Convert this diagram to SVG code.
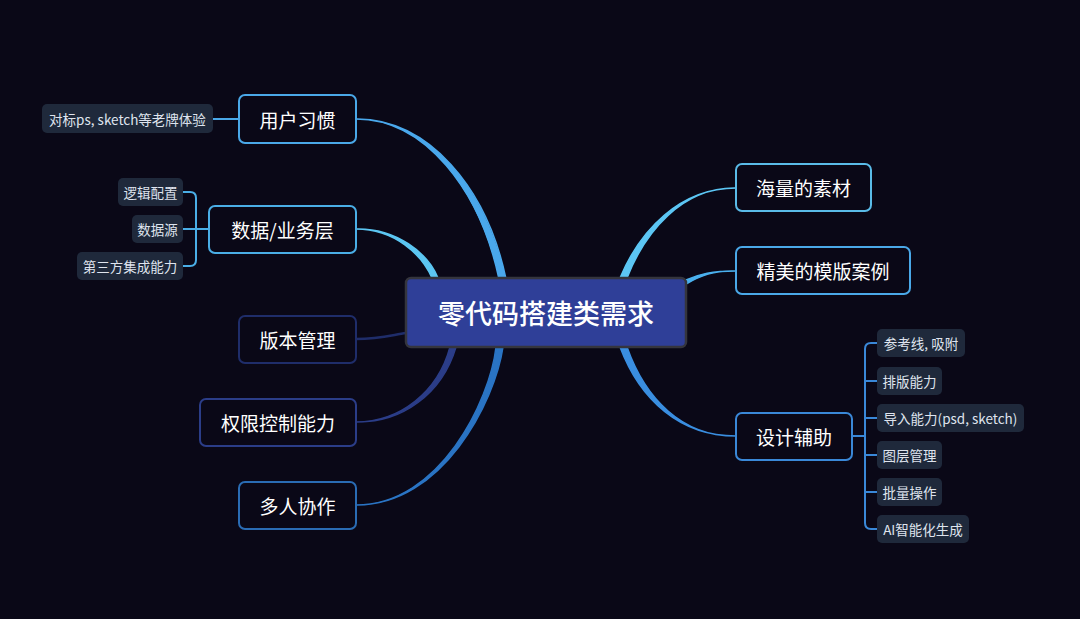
<svg xmlns="http://www.w3.org/2000/svg" width="1080" height="619" viewBox="0 0 1080 619">
<style>
.main{fill:#0a0817;stroke-width:2}
.mt{font-family:"Noto Sans CJK SC","Noto Sans",sans-serif;font-size:19px;fill:#ffffff;text-anchor:middle;dominant-baseline:central}
.sub{fill:#1f293b}
.st{font-family:"Noto Sans CJK SC","Noto Sans",sans-serif;font-size:13.5px;fill:#dfe4ee;text-anchor:middle;dominant-baseline:central}
.br{fill:none;stroke-width:2}
</style>
<rect width="1080" height="619" fill="#0a0817"/>
<g id="connectors">
<path d="M356,119 C425,119 480,190 499,279 L506,279 C487,188 428,118 356,119 Z" fill="#4aa8ec" stroke="#4aa8ec" stroke-width="1.5"/>
<path d="M356,229 C395,229 422,255 432,278 L438,278 C428,253 396,228 356,229 Z" fill="#5cc6f2" stroke="#5cc6f2" stroke-width="1.5"/>
<path d="M356,339 C380,339 392,335 406,333" fill="none" stroke="#1f2d6a" stroke-width="2.5"/>
<path d="M356,422 C400,422 438,392 450,347 L456,347 C442,394 402,423 356,422 Z" fill="#2b3d88" stroke="#2b3d88" stroke-width="1.5"/>
<path d="M356,505 C440,505 490,400 496,347 L503,347 C495,402 442,506 356,505 Z" fill="#2a74c4" stroke="#2a74c4" stroke-width="1.5"/>
<path d="M736,188 C680,188 640,230 620,278 L627,278 C645,232 682,187 736,188 Z" fill="#5cc6f4" stroke="#5cc6f4" stroke-width="1.5"/>
<path d="M736,271 C712,271 700,274 686,280 L686,284 C700,276 714,270 736,271 Z" fill="#4ab0ee" stroke="#4ab0ee" stroke-width="1.5"/>
<path d="M736,436 C680,436 640,400 620,347 L627,347 C645,398 682,437 736,436 Z" fill="#3a8ee0" stroke="#3a8ee0" stroke-width="1.5"/>
<path d="M213,119 H239" fill="none" stroke="#4aa8e8" stroke-width="2"/>
<path class="br" stroke="#4aaee6" d="M209,229 H196 M183,192 H190 Q196,192 196,198 V260 Q196,266 190,266 H183 M183,229 H196"/>
<path class="br" stroke="#3a88d8" d="M852,436 H865 M877,343 H871 Q865,343 865,349 V523 Q865,529 871,529 H877 M865,381 H877 M865,418 H877 M865,455 H877 M865,492 H877"/>
</g>
<g id="center">
<rect x="406" y="278" width="280" height="69" rx="5" fill="#2f3f98" stroke="#35353d" stroke-width="2.5"/>
<text x="546" y="312" font-family="'Noto Sans CJK SC','Noto Sans',sans-serif" font-size="27" font-weight="500" fill="#ffffff" text-anchor="middle" dominant-baseline="central">零代码搭建类需求</text>
</g>
<g id="n-yonghu"><rect class="main" x="239" y="95" width="117" height="48" rx="6" stroke="#4aa8e8"/><text class="mt" x="297.5" y="119">用户习惯</text></g>
<g id="n-duibiao"><rect class="sub" x="42" y="104" width="171" height="29" rx="5"/><text class="st" x="127.5" y="118.5">对标ps, sketch等老牌体验</text></g>
<g id="n-shuju"><rect class="main" x="209" y="206" width="147" height="47" rx="6" stroke="#4aaee6"/><text class="mt" x="282.5" y="229.5">数据/业务层</text></g>
<g id="n-luoji"><rect class="sub" x="118" y="178" width="65" height="28" rx="5"/><text class="st" x="150.5" y="192">逻辑配置</text></g>
<g id="n-shujuyuan"><rect class="sub" x="132" y="215" width="51" height="28" rx="5"/><text class="st" x="157.5" y="229">数据源</text></g>
<g id="n-disanfang"><rect class="sub" x="77" y="252" width="106" height="28" rx="5"/><text class="st" x="130" y="266">第三方集成能力</text></g>
<g id="n-banben"><rect class="main" x="239" y="316" width="117" height="47" rx="6" stroke="#1f2d6a"/><text class="mt" x="297.5" y="339.5">版本管理</text></g>
<g id="n-quanxian"><rect class="main" x="200" y="399" width="156" height="47" rx="6" stroke="#2b3d88"/><text class="mt" x="278" y="422.5">权限控制能力</text></g>
<g id="n-duoren"><rect class="main" x="239" y="482" width="117" height="47" rx="6" stroke="#2a6cb4"/><text class="mt" x="297.5" y="505.5">多人协作</text></g>
<g id="n-haiiang"><rect class="main" x="736" y="164" width="135" height="47" rx="6" stroke="#5abbe8"/><text class="mt" x="803.5" y="187.5">海量的素材</text></g>
<g id="n-jingmei"><rect class="main" x="736" y="247" width="174" height="47" rx="6" stroke="#4aa8e8"/><text class="mt" x="823" y="270.5">精美的模版案例</text></g>
<g id="n-sheji"><rect class="main" x="736" y="413" width="116" height="47" rx="6" stroke="#3a88d8"/><text class="mt" x="794" y="436.5">设计辅助</text></g>
<g id="n-cankao"><rect class="sub" x="877" y="329" width="88" height="28" rx="5"/><text class="st" x="921" y="343">参考线, 吸附</text></g>
<g id="n-paiban"><rect class="sub" x="877" y="367" width="65" height="28" rx="5"/><text class="st" x="909.5" y="381">排版能力</text></g>
<g id="n-daoru"><rect class="sub" x="877" y="404" width="147" height="28" rx="5"/><text class="st" x="950.5" y="418">导入能力(psd, sketch)</text></g>
<g id="n-tuceng"><rect class="sub" x="877" y="441" width="65" height="28" rx="5"/><text class="st" x="909.5" y="455">图层管理</text></g>
<g id="n-piliang"><rect class="sub" x="877" y="478" width="65" height="28" rx="5"/><text class="st" x="909.5" y="492">批量操作</text></g>
<g id="n-ai"><rect class="sub" x="877" y="515" width="92" height="28" rx="5"/><text class="st" x="923" y="529">AI智能化生成</text></g>
</svg>
